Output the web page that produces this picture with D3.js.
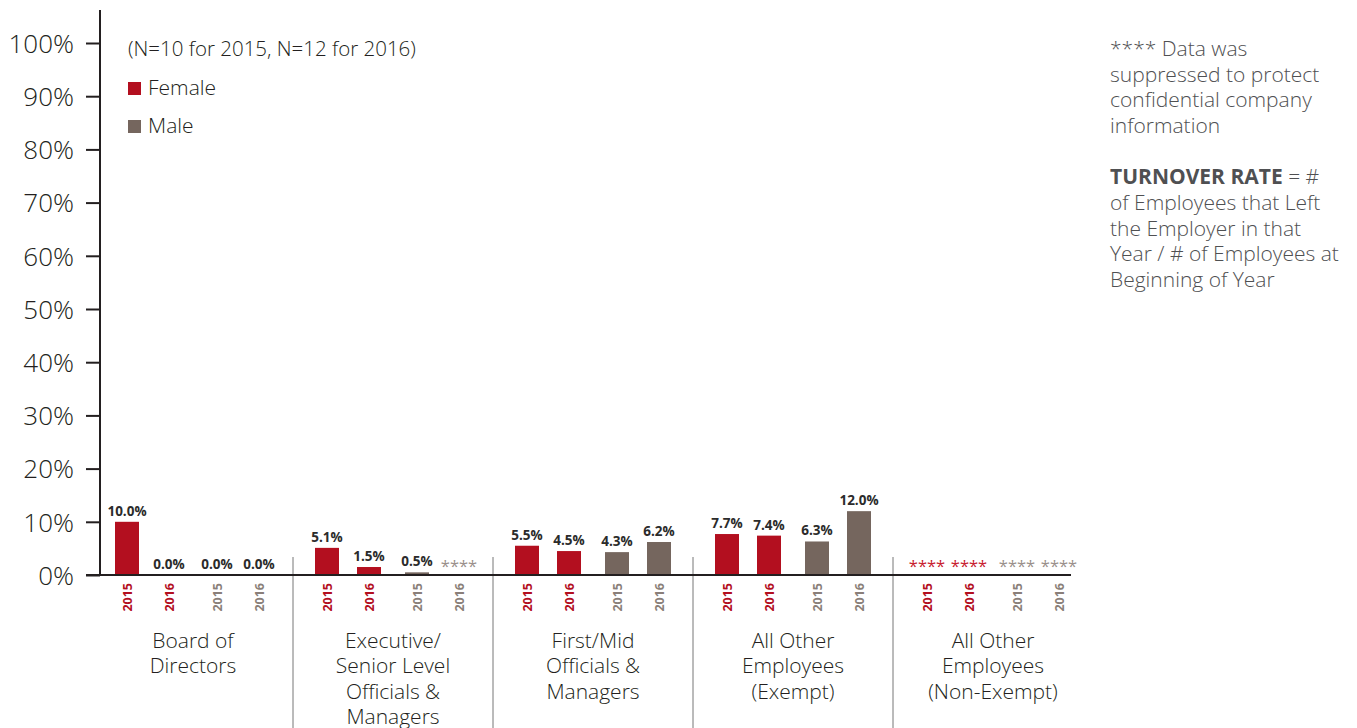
<!DOCTYPE html>
<html>
<head>
<meta charset="utf-8">
<script src="https://cdn.jsdelivr.net/npm/d3@7"></script>
<style>
  body { margin: 0; background: #fff; }
  svg { display: block; font-family: "Open Sans", Lato, sans-serif; }
  .light { font-family: "Open Sans", Lato, sans-serif; font-weight: 300; }
</style>
</head>
<body>
<svg id="chart" width="1357" height="728"></svg>
<script>
//Data
const categories = ["Board of|Directors", "Executive/|Senior Level|Officials &|Managers", "First/Mid|Officials &|Managers", "All Other|Employees|(Exempt)", "All Other|Employees|(Non-Exempt)"];
const genders = ["Female", "Male"];
const years = ["2015", "2016"];
// null = suppressed (****)
const female2015 = [10.0, 5.1, 5.5, 7.7, null];
const female2016 = [0.0, 1.5, 4.5, 7.4, null];
const male2015 = [0.0, 0.5, 4.3, 6.3, null];
const male2016 = [0.0, null, 6.2, 12.0, null];
const yTicks = [0, 10, 20, 30, 40, 50, 60, 70, 80, 90, 100];
const noteLines = ["**** Data was", "suppressed to protect", "confidential company", "information"];
const rateLines = ["of Employees that Left", "the Employer in that", "Year / # of Employees at", "Beginning of Year"];

const seriesTable = {
  Female: { "2015": female2015, "2016": female2016 },
  Male: { "2015": male2015, "2016": male2016 }
};

const colors = { Female: "#b30f1f", Male: "#75665e" };
const starColors = { Female: "#c8202e", Male: "#9a908b" };

const svg = d3.select("#chart");

//Scales
const y = d3.scaleLinear().domain([0, 100]).range([575, 43]);
const x = d3.scaleBand().domain(categories).range([93, 1093]);
const xGender = d3.scalePoint().domain(genders).range([55, 145]);
const xYear = d3.scalePoint().domain(years).range([-21, 21]);
const barW = 24;

//flatten
const rows = [];
categories.forEach((c, i) => {
  genders.forEach(g => {
    years.forEach(yr => {
      rows.push({ cat: c, gender: g, year: yr, value: seriesTable[g][yr][i] });
    });
  });
});
const cx = d => x(d.cat) + xGender(d.gender) + xYear(d.year);

//Y axis
const yAxis = svg.append("g")
  .attr("transform", "translate(100,0)")
  .call(d3.axisLeft(y).tickValues(yTicks).tickFormat(d => d + "%").tickSize(14).tickSizeOuter(0).tickPadding(12));
yAxis.attr("font-family", null).attr("font-size", null);
yAxis.select(".domain").remove();
yAxis.selectAll(".tick line").attr("stroke", "#231f20").attr("stroke-width", 2);
yAxis.selectAll(".tick text")
  .attr("class", "light")
  .attr("font-size", 26)
  .attr("fill", "#231f20")
  .attr("dy", "0.36em");

svg.append("line")
  .attr("x1", 100).attr("x2", 100)
  .attr("y1", 10).attr("y2", y(0))
  .attr("stroke", "#231f20").attr("stroke-width", 2);

//Group separators
svg.selectAll(".sep")
  .data(categories.slice(1))
  .enter()
  .append("line")
  .attr("class", "sep")
  .attr("x1", d => x(d)).attr("x2", d => x(d))
  .attr("y1", 557).attr("y2", 728)
  .attr("stroke", "#777").attr("stroke-width", 1);

//Bars
svg.selectAll(".bar")
  .data(rows.filter(d => d.value !== null))
  .enter()
  .append("rect")
  .attr("class", "bar")
  .attr("x", d => cx(d) - barW / 2)
  .attr("width", barW)
  .attr("y", d => y(d.value))
  .attr("height", d => y(0) - y(d.value))
  .attr("fill", d => colors[d.gender]);

//Value labels
svg.selectAll(".val")
  .data(rows.filter(d => d.value !== null))
  .enter()
  .append("text")
  .attr("class", "val")
  .attr("x", d => cx(d))
  .attr("y", d => y(d.value) - 6)
  .attr("text-anchor", "middle")
  .attr("font-size", 13.5)
  .attr("font-weight", 700)
  .attr("fill", "#2b2b2b")
  .text(d => d.value.toFixed(1) + "%");

//Suppressed
svg.selectAll(".sup")
  .data(rows.filter(d => d.value === null))
  .enter()
  .append("text")
  .attr("class", "sup")
  .attr("x", d => cx(d))
  .attr("y", 572)
  .attr("text-anchor", "middle")
  .attr("font-size", 16.5)
  .attr("fill", d => starColors[d.gender])
  .text("****");

//X baseline
svg.append("line")
  .attr("x1", 86).attr("x2", 1071)
  .attr("y1", y(0)).attr("y2", y(0))
  .attr("stroke", "#231f20").attr("stroke-width", 2);

//Year labels
svg.selectAll(".yr")
  .data(rows)
  .enter()
  .append("text")
  .attr("class", "yr")
  .attr("transform", d => "translate(" + (cx(d) + 4.5) + ",583) rotate(-90)")
  .attr("text-anchor", "end")
  .attr("font-size", 12.5)
  .attr("font-weight", 700)
  .attr("fill", d => d.gender === "Female" ? colors.Female : "#8a7f79")
  .text(d => d.year);

//Category labels
svg.selectAll(".cat")
  .data(categories)
  .enter()
  .append("text")
  .attr("class", "cat light")
  .attr("text-anchor", "middle")
  .attr("font-size", 21)
  .attr("fill", "#231f20")
  .selectAll("tspan")
  .data(d => d.split("|").map(t => ({ t: t, c: d })))
  .enter()
  .append("tspan")
  .attr("x", d => x(d.c) + x.bandwidth() / 2)
  .attr("y", (d, i) => 648 + i * 25.3)
  .text(d => d.t);

//Legend
svg.append("text")
  .attr("class", "light")
  .attr("x", 128).attr("y", 56)
  .attr("font-size", 20.5).attr("fill", "#231f20")
  .text("(N=10 for 2015, N=12 for 2016)");

const legend = svg.selectAll(".leg")
  .data(genders)
  .enter()
  .append("g")
  .attr("class", "leg")
  .attr("transform", (d, i) => "translate(128," + (82 + i * 38) + ")");
legend.append("rect")
  .attr("width", 13).attr("height", 13)
  .attr("fill", d => colors[d]);
legend.append("text")
  .attr("class", "light")
  .attr("x", 20).attr("y", 13)
  .attr("font-size", 21).attr("fill", "#231f20")
  .text(d => d);

//Notes
const note = svg.append("text")
  .attr("class", "light")
  .attr("font-size", 21).attr("fill", "#4f5052");
note.selectAll("tspan")
  .data(noteLines)
  .enter()
  .append("tspan")
  .attr("x", 1110)
  .attr("y", (d, i) => 56 + i * 25.5)
  .text(d => d);

const rate = svg.append("text")
  .attr("class", "light")
  .attr("x", 1110).attr("y", 184)
  .attr("font-size", 21).attr("fill", "#4f5052");
rate.append("tspan").attr("font-weight", 700).text("TURNOVER RATE");
rate.append("tspan").text(" = #");
svg.append("text")
  .attr("class", "light")
  .attr("font-size", 21).attr("fill", "#4f5052")
  .selectAll("tspan")
  .data(rateLines)
  .enter()
  .append("tspan")
  .attr("x", 1110)
  .attr("y", (d, i) => 210 + i * 25.5)
  .text(d => d);
</script>
</body>
</html>
